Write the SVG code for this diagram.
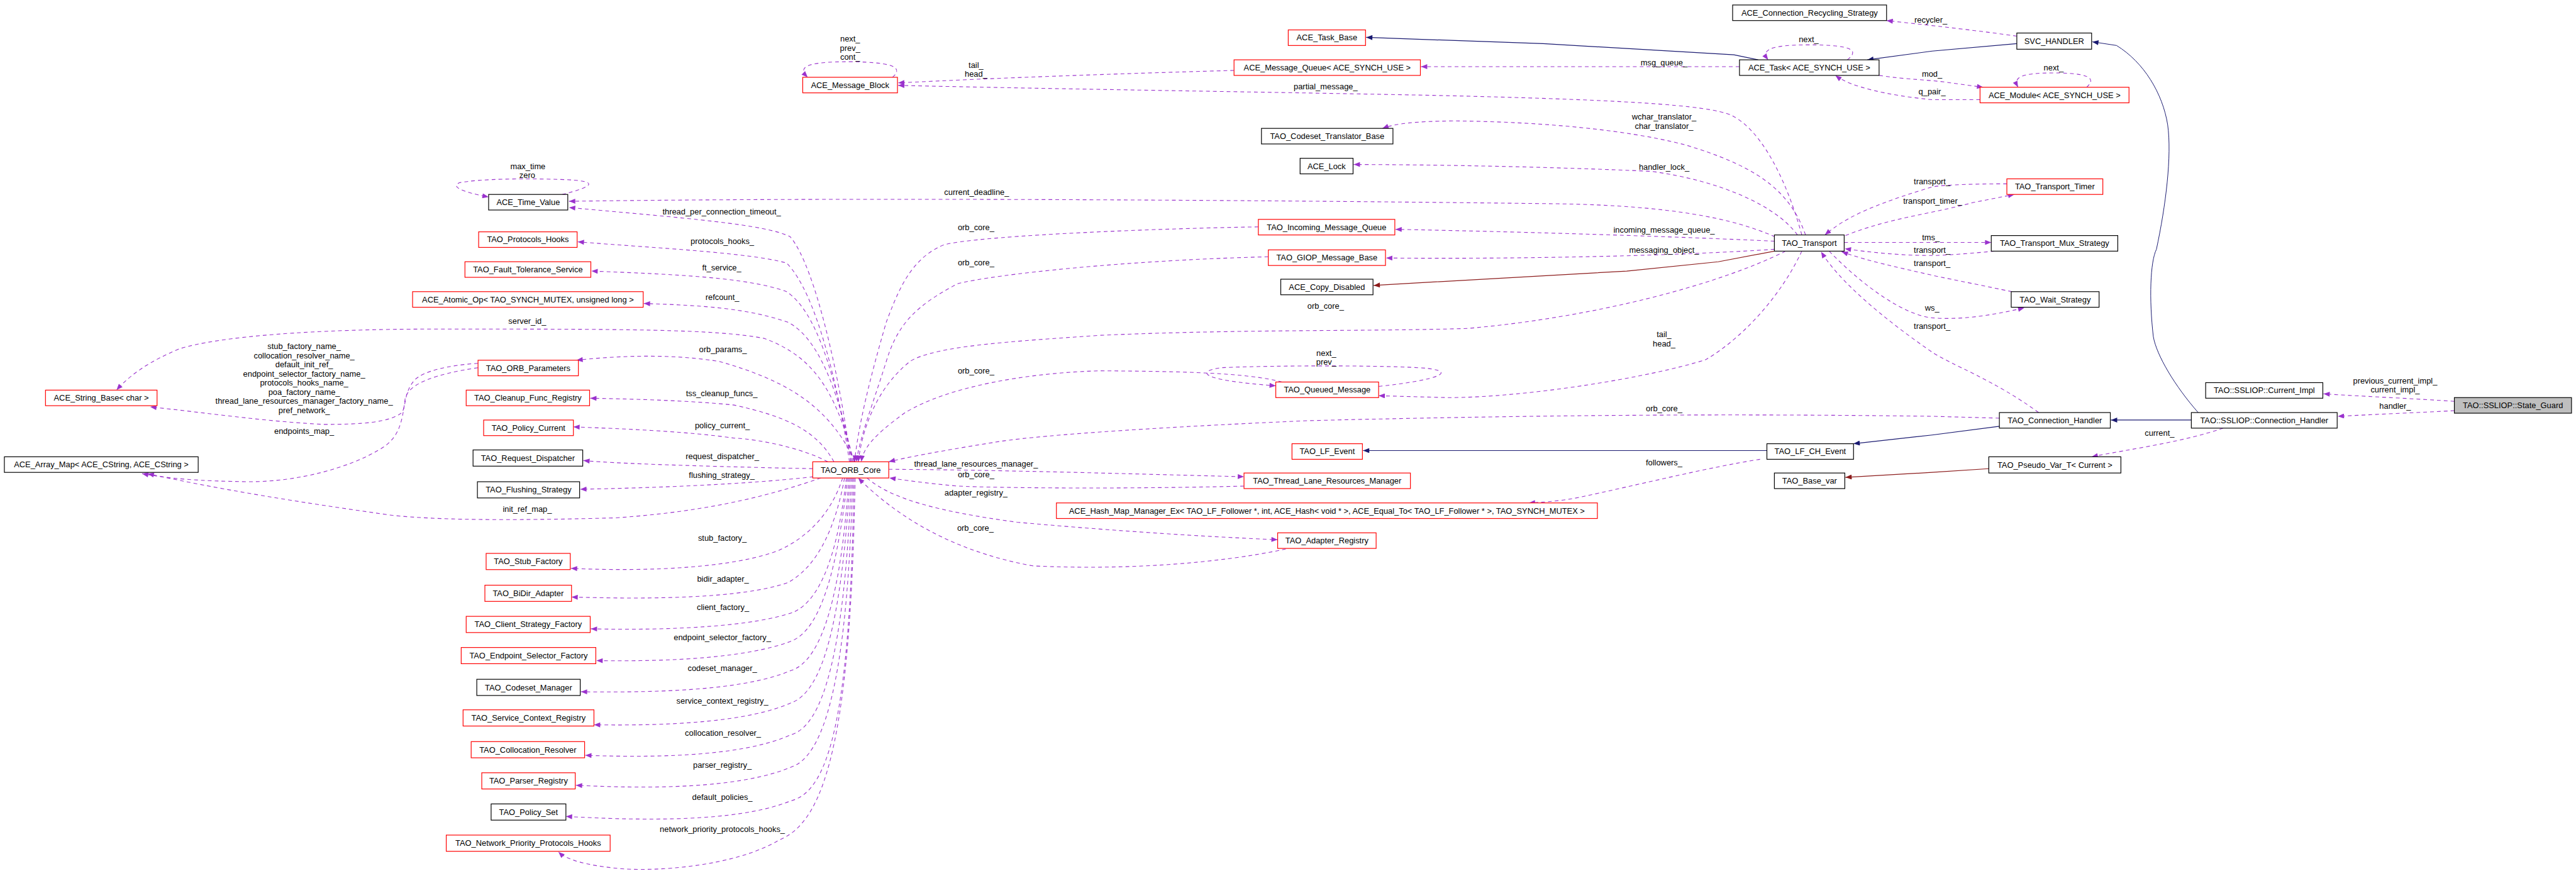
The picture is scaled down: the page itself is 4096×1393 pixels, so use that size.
<svg xmlns="http://www.w3.org/2000/svg" width="4096" height="1393" viewBox="0 0 4096 1393">
<style>
.r{fill:#fff;stroke:#ff0000;stroke-width:1.2}
.b{fill:#fff;stroke:#000;stroke-width:1.2}
.g{fill:#bfbfbf;stroke:#000;stroke-width:1.2}
text{font-family:"Liberation Sans",Arial,sans-serif;font-size:13px;fill:#000;text-anchor:middle}
.e{fill:none;stroke:#9a32cd;stroke-width:1.1;stroke-dasharray:6,5;marker-end:url(#ap)}
.n{fill:none;stroke:#191970;stroke-width:1.2;marker-end:url(#an)}
.f{fill:none;stroke:#8b1a1a;stroke-width:1.2;marker-end:url(#af)}
</style>
<defs>
<marker id="ap" viewBox="0 0 10 8" refX="10" refY="4" markerWidth="11" markerHeight="8" markerUnits="userSpaceOnUse" orient="auto"><path d="M0,0 L10,4 L0,8 z" fill="#9a32cd" stroke="none"/></marker>
<marker id="an" viewBox="0 0 10 8" refX="10" refY="4" markerWidth="11" markerHeight="8" markerUnits="userSpaceOnUse" orient="auto"><path d="M0,0 L10,4 L0,8 z" fill="#191970" stroke="none"/></marker>
<marker id="af" viewBox="0 0 10 8" refX="10" refY="4" markerWidth="11" markerHeight="8" markerUnits="userSpaceOnUse" orient="auto"><path d="M0,0 L10,4 L0,8 z" fill="#8b1a1a" stroke="none"/></marker>
</defs>
<rect width="4096" height="1393" fill="#fff"/>
<g transform="scale(0.991)">
<g id="edges">
<!-- Time_Value self loop -->
<path class="e" d="M902,312 C950,300 968,290 900,288 C840,286 770,287 738,293 C722,299 740,308 784,316"/>
<path class="e" d="M2848,380 C2780,350 2680,330 2500,327 C2100,322 1400,316 913,323"/>
<path class="e" d="M1365,741 C1350,620 1310,430 1268,380 C1230,360 1100,350 913,333"/>
<path class="e" d="M1363,741 C1345,620 1310,470 1262,422 C1200,405 1050,398 927,388"/>
<path class="e" d="M1366,741 C1340,600 1310,500 1262,468 C1200,445 1080,440 949,435"/>
<path class="e" d="M1368,741 C1345,620 1310,540 1264,517 C1200,495 1130,490 1033,487"/>
<path class="e" d="M1370,741 C1340,620 1300,570 1226,543 C1150,528 1000,528 700,528 C500,528 350,540 287,560 C240,580 210,600 187,626"/>
<path class="e" d="M1372,741 C1330,650 1260,610 1154,580 C1080,568 1000,570 925,578"/>
<path class="e" d="M1338,741 C1310,690 1260,668 1178,650 C1100,642 1000,640 947,639"/>
<path class="e" d="M1328,741 C1290,720 1220,705 1178,703 C1100,692 1000,688 920,685"/>
<path class="e" d="M1304,752 C1200,750 1000,745 936,739"/>
<path class="e" d="M1305,765 C1200,777 1050,783 931,785"/>
<path class="e" d="M1317,767 C1250,790 1150,820 987,831 C800,836 700,834 630,827 C480,806 350,785 237,760"/>
<path class="e" d="M767,583 C720,586 680,595 665,610 C648,630 652,650 645,662 C625,678 580,681 520,681 C420,676 330,662 241,653"/>
<path class="e" d="M767,590 C700,600 655,615 650,640 C645,680 640,705 606,723 C560,750 480,773 400,773 C320,772 270,768 228,760"/>
<path class="e" d="M1980,113 C1800,118 1600,125 1441,133"/>
<path class="e" d="M1432,124 C1448,110 1440,100 1365,99 C1290,99 1280,108 1296,124"/>
<path class="e" d="M2891,377 C2870,300 2830,210 2778,185 C2740,168 2600,160 2300,153 C2000,147 1700,143 1441,137"/>
<path class="e" d="M2791,107 L2280,107"/>
<path class="e" d="M2964,96 C2985,80 2970,72 2902,72 C2840,72 2825,80 2837,96"/>
<path class="e" d="M3236,58 C3180,50 3110,42 3027,33"/>
<path class="e" d="M3015,121 C3060,128 3100,128 3130,133 L3182,140"/>
<path class="e" d="M3177,160 L3100,160 C3030,153 2970,140 2945,121"/>
<path class="e" d="M3348,140 C3365,125 3350,117 3295,117 C3240,117 3230,125 3238,140"/>
<path class="e" d="M2897,377 C2870,300 2810,265 2706,233 C2600,205 2450,195 2330,194 C2270,195 2240,198 2218,206"/>
<path class="e" d="M2884,377 C2850,330 2760,290 2650,275 C2500,268 2300,264 2172,264"/>
<path class="e" d="M2847,387 C2700,380 2450,372 2239,368"/>
<path class="e" d="M2847,400 C2700,410 2450,416 2224,414"/>
<path class="e" d="M2865,403 C2750,460 2550,510 2355,527 C2200,532 2000,528 1766,538 C1620,548 1500,555 1460,580 C1410,620 1385,680 1377,741"/>
<path class="e" d="M2891,403 C2860,470 2800,540 2737,577 C2650,605 2450,638 2323,638 L2212,635"/>
<path class="e" d="M2212,620 C2290,612 2345,598 2290,591 C2230,586 2050,586 1960,590 C1920,595 1920,610 2047,619"/>
<path class="e" d="M2057,613 C2000,598 1900,596 1766,595 C1650,598 1520,620 1451,663 C1400,700 1385,720 1382,741"/>
<path class="e" d="M2019,364 C1800,368 1560,380 1514,393 C1460,415 1440,470 1422,517 C1395,610 1378,680 1371,741"/>
<path class="e" d="M2035,412 C1800,418 1600,440 1537,455 C1470,490 1440,520 1422,580 C1400,650 1380,700 1374,741"/>
<path class="e" d="M2961,378 C3030,350 3100,343 3166,325 L3232,312"/>
<path class="e" d="M3220,295 C3180,295 3120,296 3100,300 C3000,330 2960,350 2928,377"/>
<path class="e" d="M2959,389 L3195,389"/>
<path class="e" d="M3200,403 C3170,406 3120,410 3100,410 C3050,410 3000,405 2960,399"/>
<path class="e" d="M3228,468 C3190,460 3130,448 3106,443 C3050,430 3000,420 2955,404"/>
<path class="e" d="M2935,403 C2980,450 3050,505 3100,510 C3150,514 3200,505 3248,494"/>
<path class="e" d="M3271,662 C3200,610 3130,585 3100,565 C3020,510 2950,450 2922,404"/>
<path class="e" d="M3208,671 L3100,668 C2800,664 2500,665 2100,675 C1824,687 1650,700 1594,710 C1500,725 1450,735 1426,741"/>
<path class="e" d="M2824,737 C2740,750 2620,780 2534,798 C2500,805 2470,806 2453,807"/>
<path class="e" d="M3567,687 C3500,710 3420,720 3356,733"/>
<path class="e" d="M3938,644 C3880,640 3810,637 3728,632"/>
<path class="e" d="M3938,659 C3880,662 3810,665 3751,668"/>
<path class="e" d="M1426,753 C1600,754 1800,760 1996,765"/>
<path class="e" d="M1996,780 C1800,785 1600,783 1537,780 C1480,775 1450,770 1427,767"/>
<path class="e" d="M1391,767 C1430,800 1500,820 1632,838 C1800,853 1950,862 2050,866"/>
<path class="e" d="M2063,881 C1950,905 1800,915 1657,908 C1530,885 1440,830 1377,767"/>
<path class="e" d="M1352,767 C1335,820 1300,860 1250,883 C1180,910 1050,918 916,912"/>
<path class="e" d="M1355,767 C1340,850 1310,910 1264,935 C1190,960 1050,962 917,958"/>
<path class="e" d="M1358,767 C1345,880 1320,960 1274,982 C1210,1005 1080,1012 948,1009"/>
<path class="e" d="M1360,767 C1345,900 1320,1010 1269,1029 C1200,1055 1080,1062 957,1060"/>
<path class="e" d="M1362,767 C1350,950 1320,1060 1269,1076 C1200,1105 1080,1112 932,1110"/>
<path class="e" d="M1364,767 C1350,1000 1320,1110 1269,1128 C1200,1158 1080,1165 953,1163"/>
<path class="e" d="M1366,767 C1355,1050 1320,1165 1269,1179 C1200,1210 1080,1217 939,1212"/>
<path class="e" d="M1368,767 C1360,1100 1320,1215 1269,1231 C1200,1260 1080,1268 924,1260"/>
<path class="e" d="M1370,767 C1365,1150 1330,1270 1269,1285 C1200,1313 1080,1320 908,1310"/>
<path class="e" d="M1372,767 C1365,1200 1320,1320 1250,1348 C1180,1390 1050,1400 987,1393 C940,1388 910,1380 896,1367"/>
<path class="n" d="M2821,96 L2782,88 L2476,70 L2192,60"/>
<path class="n" d="M3236,70 L3100,82 L2996,96"/>
<path class="n" style="stroke-width:1" d="M3527,662 C3490,620 3460,570 3455,540 C3448,480 3450,420 3460,400 C3475,330 3485,250 3478,200 C3470,150 3440,100 3396,73 L3357,67"/>
<path class="n" d="M3516,674 L3387,674"/>
<path class="n" d="M3208,684 L3100,698 L2974,712"/>
<path class="n" d="M2835,723 L2187,723"/>
<path class="f" d="M2847,403 L2757,420 L2610,435 L2291,453 L2204,458"/>
<path class="f" d="M3191,752 L3100,758 L2961,766"/>
</g>
<g id="labels">
<text x="847" y="271.5">max_time</text><text x="846" y="285.5">zero</text>
<text x="1567" y="313">current_deadline_</text>
<text x="1158" y="344">thread_per_connection_timeout_</text>
<text x="1159" y="392">protocols_hooks_</text>
<text x="1158" y="433.5">ft_service_</text>
<text x="1159" y="481">refcount_</text>
<text x="846" y="520">server_id_</text>
<text x="1160" y="565.5">orb_params_</text>
<text x="1158" y="635.5">tss_cleanup_funcs_</text>
<text x="1159" y="687">policy_current_</text>
<text x="1159" y="737">request_dispatcher_</text>
<text x="1158" y="766.5">flushing_strategy_</text>
<text x="846" y="821">init_ref_map_</text>
<text x="1159" y="868">stub_factory_</text>
<text x="1160" y="933">bidir_adapter_</text>
<text x="1160" y="978.5">client_factory_</text>
<text x="1159" y="1027">endpoint_selector_factory_</text>
<text x="1159" y="1077">codeset_manager_</text>
<text x="1159" y="1129.5">service_context_registry_</text>
<text x="1160" y="1180.5">collocation_resolver_</text>
<text x="1159" y="1232">parser_registry_</text>
<text x="1159" y="1284">default_policies_</text>
<text x="1159" y="1335">network_priority_protocols_hooks_</text>
<text x="488" y="560">stub_factory_name_</text>
<text x="488" y="575">collocation_resolver_name_</text>
<text x="488" y="589">default_init_ref_</text>
<text x="488" y="604">endpoint_selector_factory_name_</text>
<text x="488" y="619">protocols_hooks_name_</text>
<text x="488" y="633.5">poa_factory_name_</text>
<text x="488" y="648">thread_lane_resources_manager_factory_name_</text>
<text x="488" y="663">pref_network_</text>
<text x="488" y="696">endpoints_map_</text>
<text x="1364" y="67">next_</text><text x="1364" y="82">prev_</text><text x="1364" y="96">cont_</text>
<text x="1566" y="108.5">tail_</text><text x="1566" y="123">head_</text>
<text x="2127" y="143.5">partial_message_</text>
<text x="2670" y="104.5">msg_queue_</text>
<text x="2902" y="68">next_</text>
<text x="3098" y="36.5">recycler_</text>
<text x="3100" y="123.5">mod_</text>
<text x="3100" y="151.5">q_pair_</text>
<text x="3295" y="113.5">next_</text>
<text x="2670" y="192">wchar_translator_</text><text x="2670" y="207">char_translator_</text>
<text x="2670" y="272">handler_lock_</text>
<text x="1566" y="369.5">orb_core_</text>
<text x="1566" y="425.5">orb_core_</text>
<text x="2670" y="373.5">incoming_message_queue_</text>
<text x="2670" y="405.5">messaging_object_</text>
<text x="2127" y="495.5">orb_core_</text>
<text x="2670" y="541">tail_</text><text x="2670" y="556">head_</text>
<text x="2128" y="571">next_</text><text x="2128" y="585.5">prev_</text>
<text x="1566" y="599.5">orb_core_</text>
<text x="2670" y="659.5">orb_core_</text>
<text x="2670" y="747">followers_</text>
<text x="1566" y="748.5">thread_lane_resources_manager_</text>
<text x="1566" y="765.5">orb_core_</text>
<text x="1566" y="795.5">adapter_registry_</text>
<text x="1565" y="852">orb_core_</text>
<text x="3100" y="295.5">transport_</text><text x="3101" y="327">transport_timer_</text>
<text x="3098" y="385.5">tms_</text>
<text x="3100" y="405.5">transport_</text>
<text x="3100" y="427">transport_</text>
<text x="3100" y="498.5">ws_</text>
<text x="3100" y="527.5">transport_</text>
<text x="3465" y="699.5">current_</text>
<text x="3843" y="615.5">previous_current_impl_</text><text x="3843" y="629.5">current_impl_</text>
<text x="3843" y="656">handler_</text>
</g>
<g id="n1"><rect class="b" x="2780" y="8" width="247" height="25"/><text x="2903.5" y="25">ACE_Connection_Recycling_Strategy</text></g>
<g id="n2"><rect class="b" x="3236" y="53" width="120" height="26"/><text x="3296" y="70.5">SVC_HANDLER</text></g>
<g id="n3"><rect class="r" x="2067" y="48" width="124" height="25"/><text x="2129" y="65">ACE_Task_Base</text></g>
<g id="n4"><rect class="b" x="2791" y="96" width="224" height="25"/><text x="2903" y="113">ACE_Task&lt; ACE_SYNCH_USE &gt;</text></g>
<g id="n5"><rect class="r" x="1980" y="96" width="299" height="25"/><text x="2129.5" y="113">ACE_Message_Queue&lt; ACE_SYNCH_USE &gt;</text></g>
<g id="n6"><rect class="r" x="1288" y="124" width="152" height="25"/><text x="1364" y="141">ACE_Message_Block</text></g>
<g id="n7"><rect class="r" x="3177" y="140" width="239" height="25"/><text x="3296.5" y="157">ACE_Module&lt; ACE_SYNCH_USE &gt;</text></g>
<g id="n8"><rect class="b" x="2024" y="206" width="211" height="25"/><text x="2129.5" y="223">TAO_Codeset_Translator_Base</text></g>
<g id="n9"><rect class="b" x="2086" y="254" width="85" height="25"/><text x="2128.5" y="271">ACE_Lock</text></g>
<g id="n10"><rect class="b" x="784" y="312" width="127" height="25"/><text x="847.5" y="329">ACE_Time_Value</text></g>
<g id="n11"><rect class="r" x="3220" y="287" width="154" height="25"/><text x="3297" y="304">TAO_Transport_Timer</text></g>
<g id="n12"><rect class="r" x="2019" y="352" width="219" height="25"/><text x="2128.5" y="369">TAO_Incoming_Message_Queue</text></g>
<g id="n13"><rect class="r" x="768" y="372" width="158" height="25"/><text x="847" y="389">TAO_Protocols_Hooks</text></g>
<g id="n14"><rect class="b" x="2847" y="377" width="112" height="26"/><text x="2903" y="394.5">TAO_Transport</text></g>
<g id="n15"><rect class="b" x="3195" y="378" width="203" height="25"/><text x="3296.5" y="395">TAO_Transport_Mux_Strategy</text></g>
<g id="n16"><rect class="r" x="2035" y="401" width="188" height="25"/><text x="2129" y="418">TAO_GIOP_Message_Base</text></g>
<g id="n17"><rect class="r" x="746" y="420" width="202" height="25"/><text x="847" y="437">TAO_Fault_Tolerance_Service</text></g>
<g id="n18"><rect class="b" x="2055" y="448" width="148" height="25"/><text x="2129" y="465">ACE_Copy_Disabled</text></g>
<g id="n19"><rect class="b" x="3227" y="468" width="141" height="25"/><text x="3297.5" y="485">TAO_Wait_Strategy</text></g>
<g id="n20"><rect class="r" x="662" y="468" width="370" height="25"/><text x="847" y="485">ACE_Atomic_Op&lt; TAO_SYNCH_MUTEX, unsigned long &gt;</text></g>
<g id="n21"><rect class="r" x="767" y="578" width="161" height="25"/><text x="847.5" y="595">TAO_ORB_Parameters</text></g>
<g id="n22"><rect class="r" x="2047" y="613" width="165" height="25"/><text x="2129.5" y="630">TAO_Queued_Message</text></g>
<g id="n23"><rect class="b" x="3539" y="614" width="188" height="25"/><text x="3633" y="631">TAO::SSLIOP::Current_Impl</text></g>
<g id="n24"><rect class="g" x="3938" y="638" width="188" height="25"/><text x="4032" y="655">TAO::SSLIOP::State_Guard</text></g>
<g id="n25"><rect class="r" x="73" y="626" width="179" height="25"/><text x="162.5" y="643">ACE_String_Base&lt; char &gt;</text></g>
<g id="n26"><rect class="r" x="748" y="626" width="198" height="25"/><text x="847" y="643">TAO_Cleanup_Func_Registry</text></g>
<g id="n27"><rect class="b" x="3208" y="662" width="178" height="25"/><text x="3297" y="679">TAO_Connection_Handler</text></g>
<g id="n28"><rect class="b" x="3516" y="662" width="234" height="25"/><text x="3633" y="679">TAO::SSLIOP::Connection_Handler</text></g>
<g id="n29"><rect class="r" x="776" y="674" width="144" height="25"/><text x="848" y="691">TAO_Policy_Current</text></g>
<g id="n30"><rect class="r" x="1304" y="741" width="122" height="26"/><text x="1365" y="758.5">TAO_ORB_Core</text></g>
<g id="n31"><rect class="r" x="2073" y="712" width="113" height="25"/><text x="2129.5" y="729">TAO_LF_Event</text></g>
<g id="n32"><rect class="b" x="2835" y="712" width="139" height="25"/><text x="2904.5" y="729">TAO_LF_CH_Event</text></g>
<g id="n33"><rect class="b" x="759" y="722" width="176" height="26"/><text x="847" y="739.5">TAO_Request_Dispatcher</text></g>
<g id="n34"><rect class="b" x="7" y="733" width="311" height="25"/><text x="162.5" y="750">ACE_Array_Map&lt; ACE_CString, ACE_CString &gt;</text></g>
<g id="n35"><rect class="b" x="3191" y="733" width="212" height="26"/><text x="3297" y="750.5">TAO_Pseudo_Var_T&lt; Current &gt;</text></g>
<g id="n36"><rect class="r" x="1996" y="759" width="267" height="25"/><text x="2129.5" y="776">TAO_Thread_Lane_Resources_Manager</text></g>
<g id="n37"><rect class="b" x="2847" y="759" width="113" height="25"/><text x="2903.5" y="776">TAO_Base_var</text></g>
<g id="n38"><rect class="b" x="766" y="773" width="164" height="26"/><text x="848" y="790.5">TAO_Flushing_Strategy</text></g>
<g id="n39"><rect class="r" x="1695" y="807" width="868" height="25"/><text x="2129" y="824">ACE_Hash_Map_Manager_Ex&lt; TAO_LF_Follower *, int, ACE_Hash&lt; void * &gt;, ACE_Equal_To&lt; TAO_LF_Follower * &gt;, TAO_SYNCH_MUTEX &gt;</text></g>
<g id="n40"><rect class="r" x="2050" y="855" width="158" height="25"/><text x="2129" y="872">TAO_Adapter_Registry</text></g>
<g id="n41"><rect class="r" x="780" y="888" width="135" height="26"/><text x="847.5" y="905.5">TAO_Stub_Factory</text></g>
<g id="n42"><rect class="r" x="778" y="939" width="139" height="26"/><text x="847.5" y="956.5">TAO_BiDir_Adapter</text></g>
<g id="n43"><rect class="r" x="748" y="989" width="199" height="26"/><text x="847.5" y="1006.5">TAO_Client_Strategy_Factory</text></g>
<g id="n44"><rect class="r" x="740" y="1039" width="216" height="26"/><text x="848" y="1056.5">TAO_Endpoint_Selector_Factory</text></g>
<g id="n45"><rect class="b" x="765" y="1090" width="166" height="26"/><text x="848" y="1107.5">TAO_Codeset_Manager</text></g>
<g id="n46"><rect class="r" x="743" y="1139" width="210" height="26"/><text x="848" y="1156.5">TAO_Service_Context_Registry</text></g>
<g id="n47"><rect class="r" x="756" y="1190" width="182" height="26"/><text x="847" y="1207.5">TAO_Collocation_Resolver</text></g>
<g id="n48"><rect class="r" x="773" y="1240" width="150" height="26"/><text x="848" y="1257.5">TAO_Parser_Registry</text></g>
<g id="n49"><rect class="b" x="788" y="1290" width="120" height="26"/><text x="848" y="1307.5">TAO_Policy_Set</text></g>
<g id="n50"><rect class="r" x="716" y="1340" width="263" height="26"/><text x="847.5" y="1357.5">TAO_Network_Priority_Protocols_Hooks</text></g>
</g>
</svg>
